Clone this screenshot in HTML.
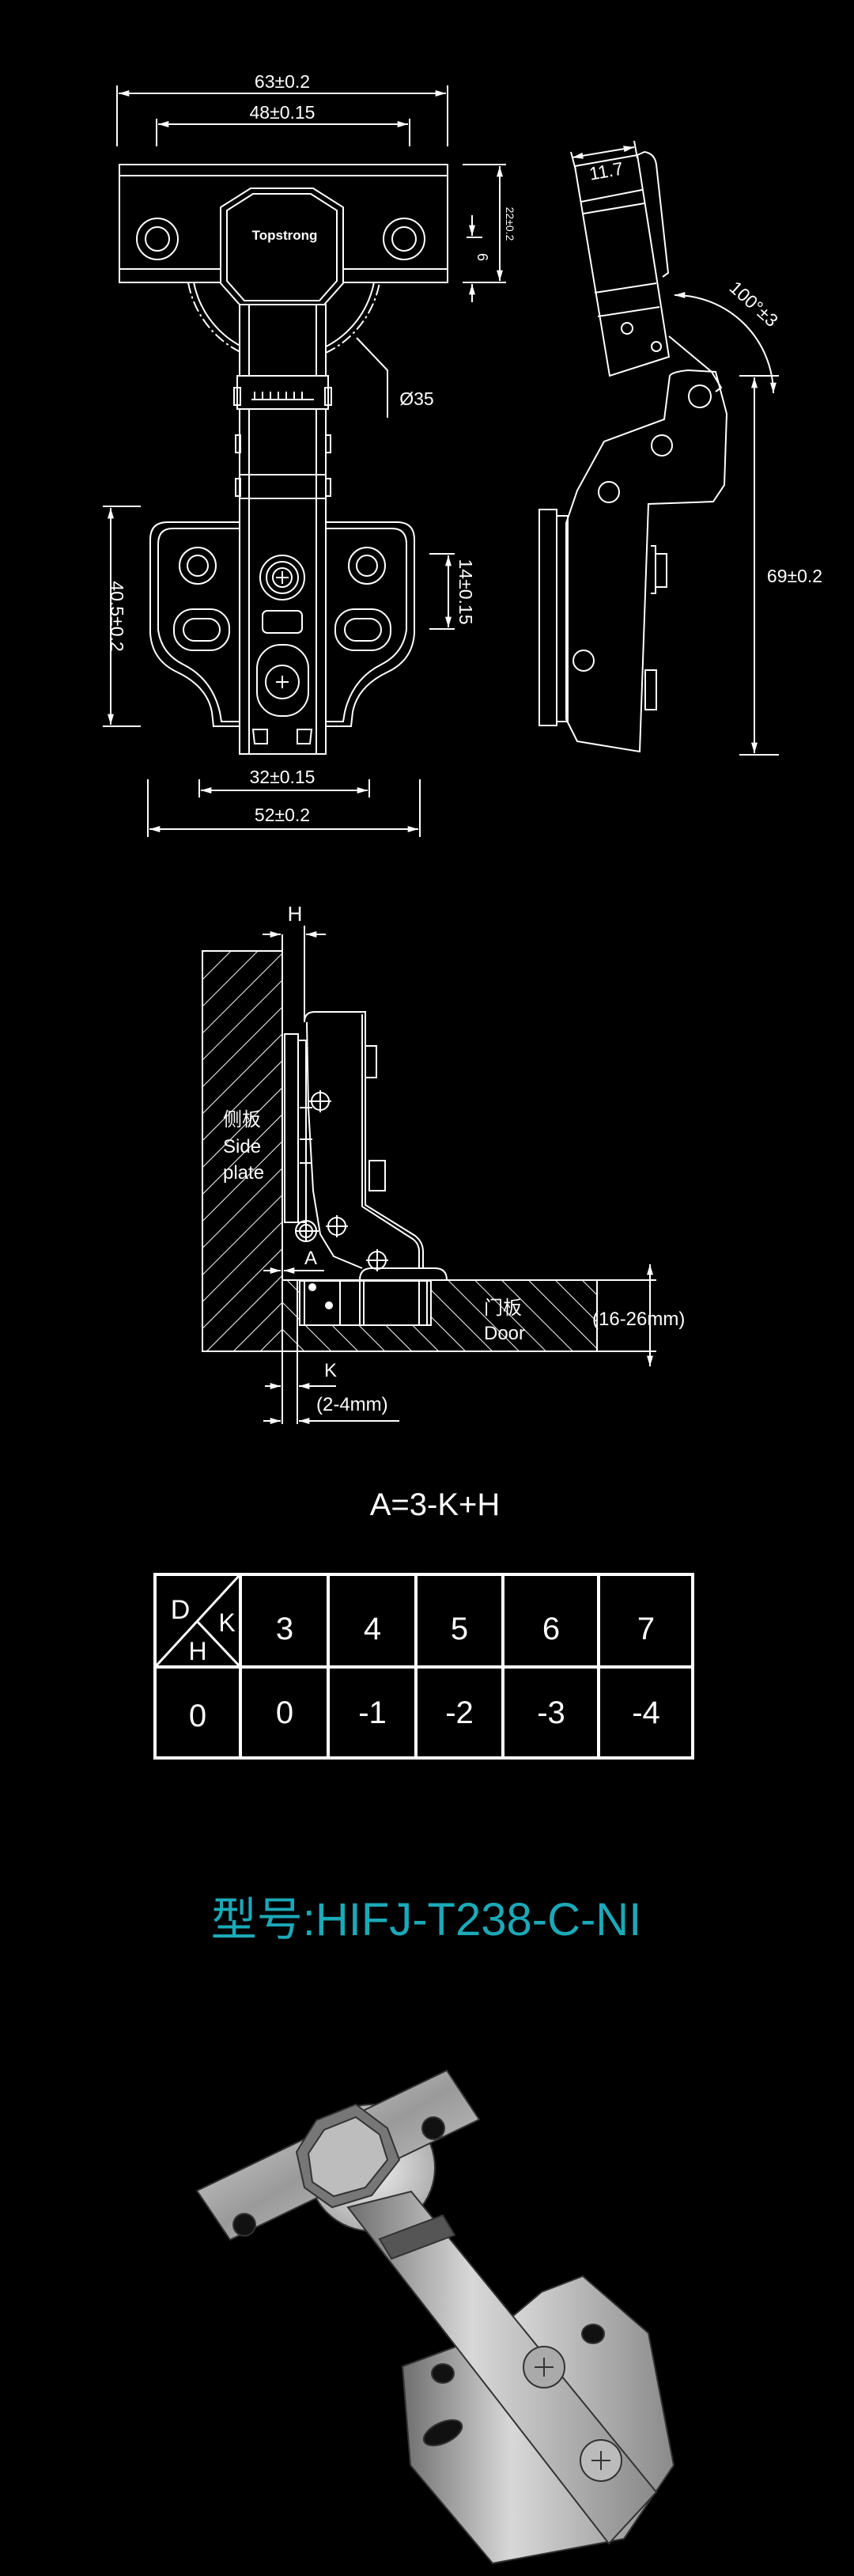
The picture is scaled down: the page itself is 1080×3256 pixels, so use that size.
<!DOCTYPE html>
<html><head><meta charset="utf-8"><style>
html,body{margin:0;padding:0;background:#000;}
body{width:1080px;height:3256px;overflow:hidden;}
svg{display:block}
text{font-family:"Liberation Sans","Noto Sans CJK SC",sans-serif;fill:#fff}
</style></head><body>
<svg width="1080" height="3256" viewBox="0 0 1080 3256" xmlns="http://www.w3.org/2000/svg">
<defs>
<marker id="ar" viewBox="0 0 10 6" refX="10" refY="3" markerWidth="14" markerHeight="8" orient="auto-start-reverse" markerUnits="userSpaceOnUse"><path d="M0,0 L10,3 L0,6 z" fill="#fff"/></marker>
<pattern id="h1" width="24" height="24" patternUnits="userSpaceOnUse" patternTransform="rotate(45)"><line x1="0" y1="0" x2="0" y2="24" stroke="#fff" stroke-width="2"/></pattern>
<pattern id="h2" width="24" height="24" patternUnits="userSpaceOnUse" patternTransform="rotate(-45)"><line x1="0" y1="0" x2="0" y2="24" stroke="#fff" stroke-width="2"/></pattern>
<linearGradient id="m1" x1="0" y1="0" x2="1" y2="1"><stop offset="0" stop-color="#e8e8e8"/><stop offset="0.5" stop-color="#9a9a9a"/><stop offset="1" stop-color="#dcdcdc"/></linearGradient>
<linearGradient id="m2" x1="0" y1="0" x2="1" y2="0"><stop offset="0" stop-color="#6e6e6e"/><stop offset="0.4" stop-color="#d8d8d8"/><stop offset="1" stop-color="#8a8a8a"/></linearGradient>
<radialGradient id="m3"><stop offset="0" stop-color="#f0f0f0"/><stop offset="1" stop-color="#b0b0b0"/></radialGradient>
</defs>

<!-- ===== TOP VIEW ===== -->
<g stroke="#fff" stroke-width="2" fill="none">
 <line x1="148" y1="108" x2="148" y2="185"/><line x1="566" y1="108" x2="566" y2="185"/>
 <line x1="150" y1="118" x2="564" y2="118" marker-start="url(#ar)" marker-end="url(#ar)"/>
 <line x1="198" y1="150" x2="198" y2="185"/><line x1="518" y1="150" x2="518" y2="185"/>
 <line x1="200" y1="157" x2="516" y2="157" marker-start="url(#ar)" marker-end="url(#ar)"/>
 <circle cx="359" cy="335" r="123" stroke-dasharray="14,4,3,4"/>
 <circle cx="359" cy="335" r="116"/>
 <rect x="151" y="208" width="415" height="149" fill="#000"/>
 <line x1="151" y1="222" x2="566" y2="222"/><line x1="151" y1="340" x2="566" y2="340"/>
 <circle cx="199" cy="302" r="26" fill="#000"/><circle cx="199" cy="302" r="15"/>
 <circle cx="511" cy="302" r="26" fill="#000"/><circle cx="511" cy="302" r="15"/>
 <path d="M279,262 L317,238 L396,238 L434,262 L434,358 L410,385 L303,385 L279,358 Z" fill="#000"/>
 <path d="M287,266 L320,245 L393,245 L426,266 L426,355 L404,380 L309,380 L287,355 Z"/>
 <path d="M451,427 L490,468 L490,528"/>
 <rect x="303" y="385" width="109" height="568" fill="#000"/>
 <line x1="315" y1="385" x2="315" y2="953"/><line x1="400" y1="385" x2="400" y2="953"/>
 <rect x="300" y="475" width="115" height="42" fill="#000"/>
 <line x1="318" y1="505" x2="397" y2="505"/>
 <path d="M322,505 v-10 M332,505 v-10 M342,505 v-10 M352,505 v-10 M362,505 v-10 M372,505 v-10 M382,505 v-10"/>
 <rect x="296" y="490" width="8" height="22"/><rect x="411" y="490" width="8" height="22"/>
 <rect x="298" y="550" width="6" height="22"/><rect x="412" y="550" width="6" height="22"/>
 <rect x="298" y="605" width="6" height="22"/><rect x="412" y="605" width="6" height="22"/>
 <line x1="303" y1="600" x2="412" y2="600"/><line x1="303" y1="630" x2="412" y2="630"/>
 <path d="M303,660 L212,660 Q190,660 190,682 L190,800 Q192,835 225,850 Q262,868 268,900 L270,918 L303,918"/>
 <path d="M303,668 L218,668 Q200,668 200,688 L200,796 Q204,826 232,840 Q268,858 278,900 L280,912 L303,912"/>
 <path d="M411,660 L502,660 Q524,660 524,682 L524,800 Q522,835 489,850 Q452,868 446,900 L444,918 L411,918"/>
 <path d="M411,668 L496,668 Q514,668 514,688 L514,796 Q510,826 482,840 Q446,858 436,900 L434,912 L411,912"/>
 <circle cx="250" cy="715" r="23"/><circle cx="250" cy="715" r="13"/>
 <circle cx="464" cy="715" r="23"/><circle cx="464" cy="715" r="13"/>
 <rect x="220" y="770" width="70" height="52" rx="24"/><rect x="232" y="782" width="46" height="28" rx="14"/>
 <rect x="424" y="770" width="70" height="52" rx="24"/><rect x="436" y="782" width="46" height="28" rx="14"/>
 <circle cx="357" cy="730" r="28"/><circle cx="357" cy="730" r="20"/><circle cx="357" cy="730" r="12"/>
 <path d="M349,730 h16 M357,722 v16"/>
 <rect x="332" y="772" width="50" height="28" rx="6"/>
 <rect x="325" y="815" width="65" height="90" rx="30"/><circle cx="357" cy="862" r="21"/>
 <path d="M349,862 h16 M357,854 v16"/>
 <path d="M320,922 L338,922 L338,940 L322,940 Z M394,922 L376,922 L376,940 L392,940 Z"/>
 <line x1="130" y1="640" x2="178" y2="640"/><line x1="130" y1="918" x2="178" y2="918"/>
 <line x1="140" y1="642" x2="140" y2="916" marker-start="url(#ar)" marker-end="url(#ar)"/>
 <line x1="543" y1="700" x2="575" y2="700"/><line x1="543" y1="795" x2="575" y2="795"/>
 <line x1="567" y1="702" x2="567" y2="793" marker-start="url(#ar)" marker-end="url(#ar)"/>
 <line x1="585" y1="208" x2="640" y2="208"/><line x1="585" y1="357" x2="640" y2="357"/>
 <line x1="632" y1="210" x2="632" y2="355" marker-start="url(#ar)" marker-end="url(#ar)"/>
 <line x1="590" y1="300" x2="610" y2="300"/>
 <line x1="597" y1="272" x2="597" y2="298" marker-end="url(#ar)"/>
 <line x1="597" y1="382" x2="597" y2="359" marker-end="url(#ar)"/>
 <line x1="187" y1="985" x2="187" y2="1058"/><line x1="531" y1="985" x2="531" y2="1058"/>
 <line x1="252" y1="985" x2="252" y2="1008"/><line x1="467" y1="985" x2="467" y2="1008"/>
 <line x1="254" y1="999" x2="465" y2="999" marker-start="url(#ar)" marker-end="url(#ar)"/>
 <line x1="189" y1="1048" x2="529" y2="1048" marker-start="url(#ar)" marker-end="url(#ar)"/>
</g>
<g font-size="23" text-anchor="middle">
 <text x="357" y="111">63±0.2</text>
 <text x="357" y="150">48±0.15</text>
 <text x="360" y="303" font-size="17" font-weight="bold">Topstrong</text>
 <text x="527" y="512">Ø35</text>
 <text x="357" y="990">32±0.15</text>
 <text x="357" y="1038">52±0.2</text>
 <text transform="translate(148,779) rotate(90)" y="8">40.5±0.2</text>
 <text transform="translate(589,748) rotate(90)" y="8">14±0.15</text>
 <text transform="translate(645,283) rotate(90)" y="5" font-size="14">22±0.2</text>
 <text transform="translate(610,325) rotate(90)" y="6" font-size="18">6</text>
</g>

<!-- ===== SIDE VIEW ===== -->
<g stroke="#fff" stroke-width="2" fill="none">
 <line x1="722" y1="192" x2="728" y2="215"/><line x1="802" y1="178" x2="806" y2="200"/>
 <line x1="724" y1="199" x2="802" y2="186" marker-start="url(#ar)" marker-end="url(#ar)"/>
 <path d="M727,210 L806,196 L846,451 L771,475 Z"/>
 <path d="M806,196 L815,192 Q828,194 830,208 L845,345 L838,350"/>
 <line x1="735" y1="255" x2="812" y2="240"/><line x1="738" y1="270" x2="815" y2="257"/>
 <line x1="752" y1="370" x2="830" y2="358"/><line x1="756" y1="400" x2="834" y2="388"/>
 <circle cx="793" cy="415" r="7"/><circle cx="830" cy="438" r="6"/>
 <path d="M846,425 L900,470 L912,490 L905,495"/>
 <path d="M847,475 Q850,470 870,468 L905,470 L919,523 L916,613 L902,634 L820,637 L809,950 L730,937 L716,909 L716,661 L730,620 L764,558 L840,530 Z"/>
 <circle cx="885" cy="501" r="14"/><circle cx="837" cy="563" r="13"/><circle cx="770" cy="622" r="13"/><circle cx="738" cy="835" r="13"/>
 <rect x="682" y="644" width="22" height="273"/><rect x="704" y="652" width="14" height="260"/>
 <path d="M823,690 h6 v60 h-6 M829,700 h14 v42 h-14"/>
 <path d="M816,847 h14 v50 h-14 z"/>
 <line x1="935" y1="475" x2="985" y2="475"/><line x1="935" y1="954" x2="985" y2="954"/>
 <line x1="954" y1="477" x2="954" y2="952" marker-start="url(#ar)" marker-end="url(#ar)"/>
 <path d="M853,373 A125,125 0 0 1 978,497" marker-start="url(#ar)" marker-end="url(#ar)"/>
</g>
<g font-size="23" text-anchor="middle">
 <text transform="translate(768,224) rotate(-10)">11.7</text>
 <text x="1005" y="736">69±0.2</text>
 <text transform="translate(948,390) rotate(42)">100°±3</text>
</g>

<!-- ===== SECTION ===== -->
<g stroke="#fff" stroke-width="2">
 <rect x="256" y="1202" width="101" height="506" fill="url(#h1)"/>
 <rect x="357" y="1618" width="398" height="90" fill="url(#h2)"/>
 <rect x="379" y="1619" width="166" height="56" fill="#000"/>
 <rect x="256" y="1202" width="101" height="506" fill="none"/>
 <g fill="none">
 <line x1="256" y1="1708" x2="830" y2="1708"/>
 <line x1="755" y1="1618" x2="830" y2="1618"/>
 <line x1="822" y1="1620" x2="822" y2="1598" marker-end="url(#ar)"/>
 <line x1="822" y1="1706" x2="822" y2="1727" marker-end="url(#ar)"/>
 <line x1="822" y1="1598" x2="822" y2="1727"/>
 <line x1="357" y1="1181" x2="357" y2="1800"/>
 <line x1="385" y1="1170" x2="385" y2="1292"/>
 <line x1="332" y1="1181" x2="355" y2="1181" marker-end="url(#ar)"/>
 <line x1="412" y1="1181" x2="387" y2="1181" marker-end="url(#ar)"/>
 <line x1="376" y1="1618" x2="376" y2="1800"/>
 <line x1="333" y1="1606" x2="355" y2="1606" marker-end="url(#ar)"/>
 <line x1="410" y1="1606" x2="359" y2="1606"/>
 <line x1="380" y1="1606" x2="359" y2="1606" marker-end="url(#ar)"/>
 <line x1="335" y1="1752" x2="355" y2="1752" marker-end="url(#ar)"/>
 <line x1="425" y1="1752" x2="378" y2="1752" marker-end="url(#ar)"/>
 <line x1="333" y1="1796" x2="355" y2="1796" marker-end="url(#ar)"/>
 <line x1="505" y1="1796" x2="378" y2="1796" marker-end="url(#ar)"/>
 <path d="M385,1292 Q385,1279 398,1279 L462,1279 L462,1523 L525,1562 Q535,1570 535,1582 L535,1602"/>
 <path d="M458,1282 L458,1525 L522,1566 Q530,1572 530,1582 L530,1602"/>
 <path d="M388,1292 L390,1400 L396,1505 L405,1560 L422,1588 L458,1603"/>
 <rect x="462" y="1322" width="14" height="40"/>
 <rect x="467" y="1467" width="20" height="38"/>
 <rect x="360" y="1307" width="17" height="238"/>
 <rect x="377" y="1315" width="10" height="230"/>
 <line x1="379" y1="1400" x2="395" y2="1400"/><line x1="379" y1="1440" x2="395" y2="1440"/><line x1="379" y1="1470" x2="395" y2="1470"/>
 <path d="M455,1618 Q455,1603 470,1603 L550,1603 Q565,1603 565,1618"/>
 <path d="M385,1619 v56 M430,1619 v56 M455,1619 v56 M460,1619 v56 M530,1619 v56 M540,1619 v56"/>
 <circle cx="405" cy="1392" r="11"/><path d="M391,1392 h28 M405,1378 v28"/>
 <circle cx="426" cy="1550" r="11"/><path d="M412,1550 h28 M426,1536 v28"/>
 <circle cx="387" cy="1556" r="13"/><circle cx="387" cy="1556" r="8"/><path d="M373,1556 h30 M387,1542 v28"/>
 <circle cx="477" cy="1593" r="11"/><path d="M463,1593 h28 M477,1579 v28"/>
 </g>
 <circle cx="395" cy="1627" r="4" fill="#fff"/>
 <circle cx="416" cy="1650" r="4" fill="#fff"/>
</g>
<g font-size="24">
 <text x="373" y="1164" text-anchor="middle" font-size="26">H</text>
 <text x="282" y="1423">侧板</text>
 <text x="282" y="1457">Side</text>
 <text x="282" y="1490">plate</text>
 <text x="393" y="1598" text-anchor="middle">A</text>
 <text x="612" y="1661">门板</text>
 <text x="612" y="1693">Door</text>
 <text x="749" y="1675">(16-26mm)</text>
 <text x="418" y="1740" text-anchor="middle">K</text>
 <text x="400" y="1783">(2-4mm)</text>
 <text x="550" y="1915" text-anchor="middle" font-size="40">A=3-K+H</text>
</g>

<!-- ===== TABLE ===== -->
<g stroke="#fff" stroke-width="4" fill="none">
 <rect x="196" y="1990" width="680" height="232"/>
 <line x1="196" y1="2107" x2="876" y2="2107"/>
 <line x1="304" y1="1990" x2="304" y2="2222"/>
 <line x1="415" y1="1990" x2="415" y2="2222"/>
 <line x1="526" y1="1990" x2="526" y2="2222"/>
 <line x1="636" y1="1990" x2="636" y2="2222"/>
 <line x1="757" y1="1990" x2="757" y2="2222"/>
 <line x1="198" y1="2105" x2="302" y2="1992" stroke-width="3"/>
 <line x1="250" y1="2050" x2="302" y2="2105" stroke-width="3"/>
</g>
<g font-size="40" text-anchor="middle">
 <text x="228" y="2046" font-size="34">D</text>
 <text x="287" y="2062" font-size="32">K</text>
 <text x="250" y="2098" font-size="32">H</text>
 <text x="360" y="2072">3</text><text x="471" y="2072">4</text><text x="581" y="2072">5</text><text x="697" y="2072">6</text><text x="817" y="2072">7</text>
 <text x="250" y="2182">0</text><text x="360" y="2178">0</text><text x="471" y="2178">-1</text><text x="581" y="2178">-2</text><text x="697" y="2178">-3</text><text x="817" y="2178">-4</text>
</g>

<!-- ===== TITLE ===== -->
<text x="539" y="2446" text-anchor="middle" font-size="58" style="fill:#1ba9b8">型号:HIFJ-T238-C-NI</text>

<!-- ===== PHOTO ===== -->
<g stroke="#333" stroke-width="2">
 <path d="M509,2991 L623,2949 L685,2897 L737,2877 L820,2949 L852,3116 L789,3209 L623,3240 L519,3116 Z" fill="url(#m2)"/>
 <ellipse cx="560" cy="3000" rx="14" ry="12" fill="#111"/>
 <ellipse cx="560" cy="3075" rx="26" ry="13" fill="#111" transform="rotate(-25 560 3075)"/>
 <ellipse cx="750" cy="2950" rx="14" ry="12" fill="#111"/>
 <circle cx="470" cy="2740" r="80" fill="url(#m3)"/>
 <path d="M249,2769 L565,2617 L606,2679 L291,2831 Z" fill="url(#m1)"/>
 <path d="M375,2720 L400,2680 L450,2660 L490,2690 L505,2730 L470,2775 L420,2790 L385,2765 Z" fill="#777"/>
 <path d="M390,2722 L410,2692 L450,2676 L480,2698 L490,2730 L462,2765 L422,2776 L395,2758 Z" fill="#bdbdbd"/>
 <circle cx="309" cy="2812" r="14" fill="#111"/>
 <circle cx="548" cy="2690" r="14" fill="#111"/>
 <path d="M440,2790 L520,2770 L830,3150 L770,3215 Z" fill="url(#m2)"/>
 <path d="M480,2830 L560,2800 L575,2825 L495,2855 Z" fill="#555"/>
 <circle cx="688" cy="2992" r="26" fill="#aaa"/>
 <path d="M676,2992 h24 M688,2980 v24" stroke="#333"/>
 <circle cx="760" cy="3110" r="26" fill="#bbb"/>
 <path d="M748,3110 h24 M760,3098 v24" stroke="#333"/>
</g>
</svg>
</body></html>
